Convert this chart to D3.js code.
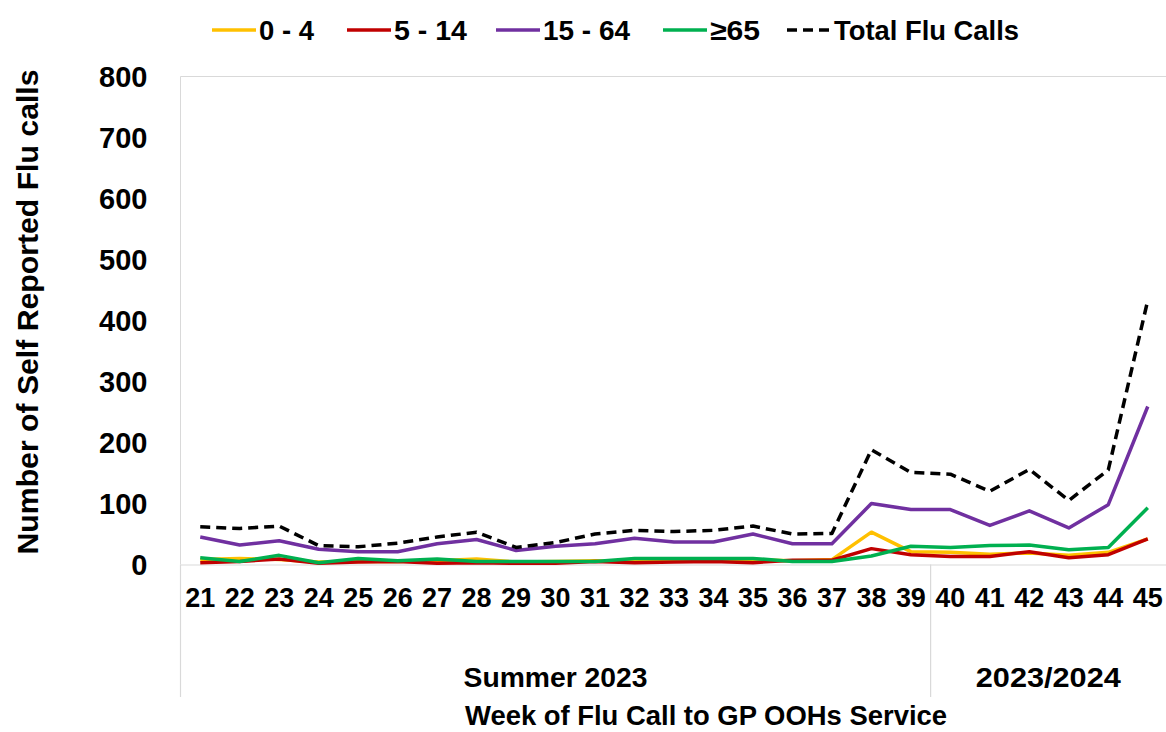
<!DOCTYPE html>
<html><head><meta charset="utf-8">
<script src="https://cdn.jsdelivr.net/npm/d3@7"></script>
<style>body{margin:0;background:#fff;}svg{display:block;font-family:"Liberation Sans",Arial,sans-serif;font-weight:bold;}</style>
</head><body>
<svg id="c" width="1166" height="732"></svg>
<script>
const weeks = [21,22,23,24,25,26,27,28,29,30,31,32,33,34,35,36,37,38,39,40,41,42,43,44,45];
const age0_4   = [8,10,8,4,5,5,6,9,4,5,6,5,6,6,8,6,8,53,21,20,17,19,15,20,42];
const age5_14  = [3,5,9,2,4,5,2,3,2,2,5,3,4,5,3,7,7,26,16,13,13,21,11,16,42];
const age15_64 = [45,32,39,25,21,21,34,41,23,30,34,43,37,37,50,34,34,100,90,90,64,88,60,98,259];
const age65    = [11,5,15,3,10,6,9,5,5,5,5,10,10,10,10,5,5,14,30,28,31,32,24,28,93];
const total    = [62,59,63,31,29,35,45,53,28,36,50,56,54,56,63,50,51,188,151,148,120,156,105,155,433];
const yTicks = [0,100,200,300,400,500,600,700,800];
const groups = [{name:"Summer 2023", from:21, to:39},{name:"2023/2024", from:40, to:45}];
const seriesNames = ["0 - 4","5 - 14","15 - 64","\u226565","Total Flu Calls"];
const seriesColors = ["#FFC000","#C00000","#7030A0","#00B050","#000000"];

const series = [age0_4, age5_14, age15_64, age65, total];
const svg = d3.select("#c");
const pL = 180.5, pR = 1167.5, pT = 76.5, pB = 564.5;
const x = d3.scaleBand().domain(weeks).range([pL, pR]);
const y = d3.scaleLinear().domain([0, 800]).range([pB, pT]);
const grid = "#d9d9d9";

function squeeze(sel, len){ sel.attr("textLength", len).attr("lengthAdjust","spacingAndGlyphs"); }

svg.append("line").attr("x1",pL).attr("x2",pR).attr("y1",pT).attr("y2",pT).attr("stroke",grid);
svg.append("line").attr("x1",pL).attr("x2",pL).attr("y1",pT).attr("y2",pB).attr("stroke",grid);

const yAxis = d3.axisLeft(y).tickValues(yTicks).tickSize(0).tickPadding(33);
const gy = svg.append("g").attr("transform",`translate(${pL},0)`).call(yAxis);
gy.select(".domain").remove();
gy.selectAll("text").attr("font-size",29).attr("font-family","Liberation Sans, Arial").attr("font-weight","bold").attr("fill","#000").attr("dy","0.36em");

const xAxis = d3.axisBottom(x).tickSize(0).tickPadding(23);
const gx = svg.append("g").attr("transform",`translate(0,${pB})`).call(xAxis);
gx.select(".domain").attr("stroke",grid);
gx.selectAll("text").attr("font-size",28).attr("font-family","Liberation Sans, Arial").attr("font-weight","bold").attr("fill","#000")
  .attr("textLength",30).attr("lengthAdjust","spacingAndGlyphs");

const bounds = [x(groups[0].from), x(groups[1].from)];
bounds.forEach(b => svg.append("line").attr("x1",b).attr("x2",b).attr("y1",pB).attr("y2",697).attr("stroke",grid).attr("stroke-width",1.2));
const groupLen = [184, 145];
groups.forEach((g,i) => {
  const x0 = x(g.from), x1 = Math.min(x(g.to) + x.bandwidth(), 1166);
  const t = svg.append("text").attr("x",(x0+x1)/2).attr("y",687).attr("text-anchor","middle").attr("font-size",28).text(g.name);
  squeeze(t, groupLen[i]);
});

squeeze(svg.append("text").attr("x",706).attr("y",725).attr("text-anchor","middle").attr("font-size",27).text("Week of Flu Call to GP OOHs Service"), 482);
squeeze(svg.append("text").attr("transform","translate(38,312) rotate(-90)").attr("text-anchor","middle").attr("font-size",29).text("Number of Self Reported Flu calls"), 485);

const line = d3.line().x((d,i)=>x(weeks[i])+x.bandwidth()/2).y(d=>y(d));
series.forEach((s,i)=>{
  svg.append("path").datum(s).attr("d",line).attr("fill","none")
    .attr("stroke",seriesColors[i]).attr("stroke-width",3.5)
    .attr("stroke-linejoin","round")
    .attr("stroke-dasharray", i===4 ? "10,6" : null);
});

const legX = [212, 347, 496, 663, 787];
const legLen = [55, 73, 87, 50, 185];
const lg = svg.append("g");
seriesNames.forEach((n,i)=>{
  const lx = legX[i];
  lg.append("line").attr("x1",lx).attr("x2",lx+44).attr("y1",30).attr("y2",30)
    .attr("stroke",seriesColors[i]).attr("stroke-width",3.5)
    .attr("stroke-dasharray", i===4 ? "10,6" : null);
  squeeze(lg.append("text").attr("x",lx+47).attr("y",40).attr("font-size",28).text(n), legLen[i]);
});
</script>
</body></html>
